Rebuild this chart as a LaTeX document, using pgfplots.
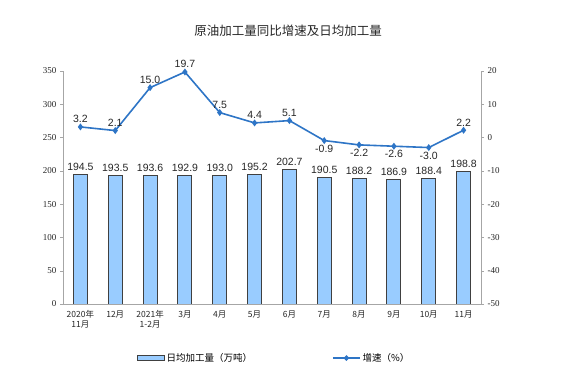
\documentclass[border=0pt]{standalone}
\usepackage{pgfplots}
\pgfplotsset{compat=1.18}
\usepackage{fontspec}
\setmainfont{Liberation Sans}
\newfontfamily\cjk{Noto Sans CJK SC}
\newfontfamily\tnr{Liberation Serif}
\definecolor{barfill}{HTML}{99CCFF}
\definecolor{linec}{HTML}{2E75C6}
\definecolor{axgray}{HTML}{A6A6A6}
\begin{document}
\begin{tikzpicture}
\useasboundingbox (0pt,0pt) rectangle (573pt,382pt);
\node[font=\cjk\fontsize{12.5}{14}\selectfont,color=black!85] at (288pt,351pt) {原油加工量同比增速及日均加工量};
\begin{axis}[at={(63pt,78pt)},anchor=south west,width=418pt,height=233pt,scale only axis,
  xmin=-0.5,xmax=11.5,ymin=0,ymax=350,
  ytick={0,50,...,350},
  axis y line*=left, axis x line*=bottom,
  axis line style={axgray},
  tick style={axgray},
  tick align=outside,
  major tick length=3pt,
  xtick={0,...,11},
  xticklabels={{2020年\\11月},12月,{2021年\\1-2月},3月,4月,5月,6月,7月,8月,9月,10月,11月},
  xticklabel style={font=\cjk\fontsize{8.5}{10}\selectfont,align=center,color=black!85},
  extra x ticks={-0.5,0.5,...,11.5},
  extra x tick labels={},
  extra x tick style={major tick length=3pt},
  major x tick style={draw=none},
  yticklabel style={font=\tnr\fontsize{9}{10}\selectfont,color=black!85},
  /pgf/number format/assume math mode=true,
  ]
\addplot[ybar,bar width=14pt,fill=barfill,draw=black!75,line width=0.9pt,
  nodes near coords,
  every node near coord/.append style={font=\fontsize{10.5}{11}\selectfont,color=black!85,/pgf/number format/.cd,fixed,fixed zerofill,precision=1}]
 coordinates {(0,194.5)(1,193.5)(2,193.6)(3,192.9)(4,193.0)(5,195.2)(6,202.7)(7,190.5)(8,188.2)(9,186.9)(10,188.4)(11,198.8)};
\end{axis}
\begin{axis}[at={(63pt,78pt)},anchor=south west,width=418pt,height=233pt,scale only axis,
  xmin=-0.5,xmax=11.5,ymin=-50,ymax=20,
  ytick={-50,-40,...,20},
  axis y line*=right, axis x line=none,
  axis line style={axgray},
  tick style={axgray},
  tick align=outside,
  major tick length=3pt,
  yticklabel style={font=\tnr\fontsize{9}{10}\selectfont,color=black!85},
  /pgf/number format/assume math mode=true,
  legend columns=2,
  legend style={at={(0.505,-0.232)},anchor=center,draw=none,fill=none,
    font=\cjk\fontsize{9.5}{11}\selectfont,
    /tikz/every even column/.append style={column sep=78pt}},
  ]
\addlegendimage{legend image code/.code={\draw[fill=barfill,draw=black!75,line width=0.9pt] (0pt,-2.5pt) rectangle (27pt,2.5pt);}}
\addlegendentry{日均加工量（万吨）}
\addplot[color=linec,line width=1.6pt,mark=diamond*,mark size=2.2pt,
  nodes near coords,
  every node near coord/.append style={font=\fontsize{10.5}{11}\selectfont,color=black!85,/pgf/number format/.cd,fixed,fixed zerofill,precision=1},
  legend image code/.code={\draw[color=linec,line width=1.6pt] (0pt,0pt) -- (27pt,0pt); \fill[linec] (13.5pt,0pt) circle (1.8pt);}]
 coordinates {(0,3.2)(1,2.1)(2,15.0)(3,19.7)(4,7.5)(5,4.4)(6,5.1)(7,-0.9)(8,-2.2)(9,-2.6)(10,-3.0)(11,2.2)};
\addlegendentry{增速（\%）}
\end{axis}
\end{tikzpicture}
\end{document}
